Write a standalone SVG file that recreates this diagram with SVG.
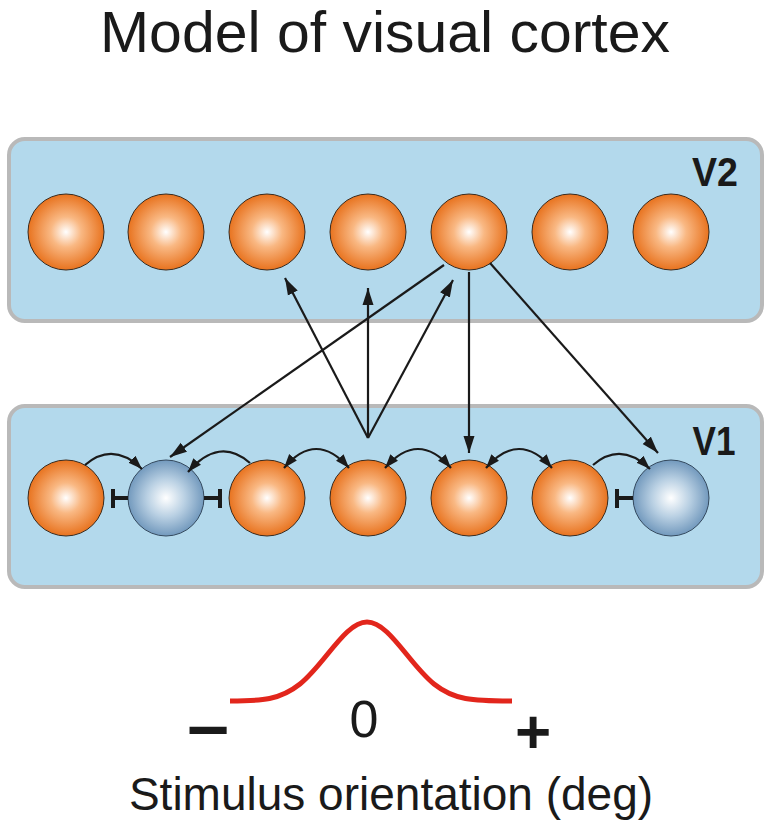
<svg xmlns="http://www.w3.org/2000/svg" width="772" height="830" viewBox="0 0 772 830">
<style>
.box{fill:#b3d9ec;stroke:#b9b9b9;stroke-width:4}
.exc{fill:url(#gOr);stroke:#3b2a1c;stroke-width:1}
.inh{fill:url(#gBl);stroke:#34495e;stroke-width:1}
.lab{font-family:"Liberation Sans",Arial,sans-serif;font-weight:bold;font-size:41px;fill:#1a1a1a}
.txt{font-family:"Liberation Sans",Arial,sans-serif;fill:#1a1a1a}
.ln{stroke:#1a1a1a;stroke-width:2.2;fill:none}
.long{marker-end:url(#ah)}
.arc{marker-end:url(#ahs)}
.dbl{marker-start:url(#ahs);marker-end:url(#ahs)}
.tb{stroke:#1a1a1a;stroke-width:4;fill:none}
</style>
<defs>
<radialGradient id="gOr" cx="0.5" cy="0.5" r="0.5">
<stop offset="0" stop-color="#ffffff"/>
<stop offset="0.4" stop-color="#f9b883"/>
<stop offset="1" stop-color="#e8731f"/>
</radialGradient>
<radialGradient id="gBl" cx="0.5" cy="0.5" r="0.5">
<stop offset="0" stop-color="#ffffff"/>
<stop offset="0.5" stop-color="#b9d0e3"/>
<stop offset="1" stop-color="#7299bd"/>
</radialGradient>
<marker id="ah" markerUnits="userSpaceOnUse" markerWidth="18" markerHeight="12" refX="17" refY="6" orient="auto">
<path d="M0,0.5 L17,6 L0,11.5 z" fill="#1a1a1a"/>
</marker>
<marker id="ahs" markerUnits="userSpaceOnUse" markerWidth="15" markerHeight="11" refX="14" refY="5.5" orient="auto-start-reverse">
<path d="M0,0.5 L14,5.5 L0,10.5 z" fill="#1a1a1a"/>
</marker>
</defs>
<rect width="772" height="830" fill="#ffffff"/>
<text class="txt" x="385" y="52" font-size="57" text-anchor="middle" textLength="570" lengthAdjust="spacingAndGlyphs">Model of visual cortex</text>

<g id="V2">
<rect class="box" x="9" y="139" width="753" height="182" rx="16"/>
<text class="lab" x="715" y="186" text-anchor="middle" textLength="46" lengthAdjust="spacingAndGlyphs">V2</text>
</g>
<g id="V1">
<rect class="box" x="9" y="406" width="753" height="181" rx="16"/>
<text class="lab" x="714" y="455" text-anchor="middle" textLength="43" lengthAdjust="spacingAndGlyphs">V1</text>
</g>

<g id="v2n1"><circle class="exc" cx="66" cy="232" r="38"/></g>
<g id="v2n2"><circle class="exc" cx="166" cy="232" r="38"/></g>
<g id="v2n3"><circle class="exc" cx="267" cy="232" r="38"/></g>
<g id="v2n4"><circle class="exc" cx="368" cy="232" r="38"/></g>
<g id="v2n5"><circle class="exc" cx="469" cy="232" r="38"/></g>
<g id="v2n6"><circle class="exc" cx="570" cy="232" r="38"/></g>
<g id="v2n7"><circle class="exc" cx="671" cy="232" r="38"/></g>

<g id="v1n1"><circle class="exc" cx="66" cy="498" r="38"/></g>
<g id="v1n2"><circle class="inh" cx="166" cy="498" r="38"/></g>
<g id="v1n3"><circle class="exc" cx="267" cy="498" r="38"/></g>
<g id="v1n4"><circle class="exc" cx="368" cy="498" r="38"/></g>
<g id="v1n5"><circle class="exc" cx="469" cy="498" r="38"/></g>
<g id="v1n6"><circle class="exc" cx="570" cy="498" r="38"/></g>
<g id="v1n7"><circle class="inh" cx="671" cy="498" r="38"/></g>

<g id="connectors">
<path class="ln long" d="M368,438 L285,278"/>
<path class="ln long" d="M368,438 L368,288"/>
<path class="ln long" d="M368,438 L453,280"/>
<path class="ln long" d="M444,265 L170,457"/>
<path class="ln long" d="M469,272 L469,453"/>
<path class="ln long" d="M490,263 L658,453"/>

<path class="ln arc" d="M85,465 Q113,441 142,469"/>
<path class="ln arc" d="M250,463 Q219,436 188,472"/>
<path class="ln dbl" d="M284,468 Q316,430 349,468"/>
<path class="ln dbl" d="M385,468 Q418,430 451,468"/>
<path class="ln dbl" d="M486,468 Q519,430 552,468"/>
<path class="ln arc" d="M593,465 Q621,441 650,469"/>

<path class="tb" d="M113,498 H128 M113,489 V508"/>
<path class="tb" d="M204,498 H220 M220,489 V508"/>
<path class="tb" d="M617,498 H633 M617,489 V508"/>
</g>

<g id="tuning">
<path d="M230,701 C262,701 280,700 300,684 C325,664 345,622 367,622 C389,622 409,664 434,684 C454,700 472,701 512,701" fill="none" stroke="#e2261c" stroke-width="5"/>
<text class="txt" x="364" y="737" font-size="52" text-anchor="middle">0</text>
<text class="txt" x="208" y="750" font-size="75" font-weight="bold" text-anchor="middle">–</text>
<text class="txt" x="533" y="753" font-size="62" font-weight="bold" text-anchor="middle">+</text>
<text class="txt" x="391" y="810" font-size="46" text-anchor="middle">Stimulus orientation (deg)</text>
</g>
</svg>
